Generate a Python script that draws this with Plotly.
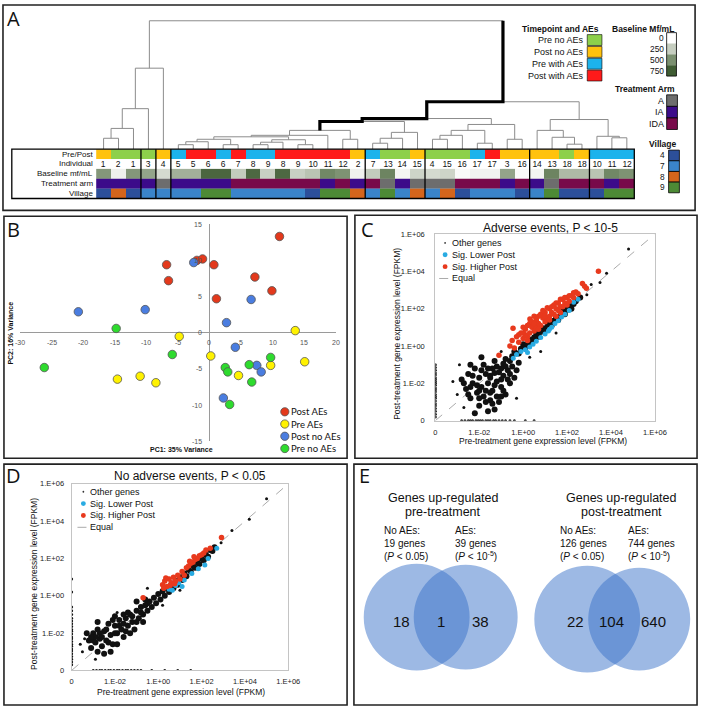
import plotly.graph_objects as go

W, H = 711, 712
def px(x): return x / W
def py(y): return 1 - y / H

SANS = "Liberation Sans, Arial, sans-serif"

# ======================= DATA =======================
# ---- Panel A: samples in dendrogram order ----
col_individual = [1, 2, 1, 3, 4, 5, 5, 6, 6, 7, 8, 9, 8, 9, 10, 11, 12, 2,
                  7, 13, 14, 15, 4, 15, 16, 17, 17, 3, 16, 14, 13, 18, 18, 10, 11, 12]
col_timepoint = ["PoN", "PN", "PN", "PN", "PoN", "PA", "PoA", "PoA", "PA", "PoA", "PA", "PA",
                 "PoA", "PoA", "PoA", "PoA", "PoA", "PoN", "PA", "PN", "PN", "PoN", "PN", "PN",
                 "PN", "PA", "PoA", "PoN", "PoN", "PoN", "PoN", "PN", "PoN", "PA", "PA", "PA"]
timepoint_codes = ["PN", "PoN", "PA", "PoA"]
timepoint_labels = ["Pre no AEs", "Post no AEs", "Pre with AEs", "Post with AEs"]
timepoint_colors = ["#8dd04b", "#ffc20e", "#1cb3ec", "#ff1a1a"]

# per individual 1..18
baseline_mf = [470, 70, 420, 190, 370, 700, 260, 690, 240, 290, 540, 490, 560, 50, 220, 25, 60, 330]
treatment_arm = ["IA", "IA", "IA", "A", "IA", "IA", "IDA", "IDA", "IDA", "IDA", "IA", "IDA",
                 "A", "IA", "A", "IDA", "IDA", "IDA"]
village = ["4", "8", "7", "7", "7", "9", "7", "7", "7", "4", "9", "9", "9", "7", "8", "4", "7", "4"]

baseline_levels = [0, 250, 500, 750]
baseline_colors = ["#ffffff", "#c6cec0", "#7b9070", "#3f5c33"]
arm_levels = ["A", "IA", "IDA"]
arm_colors = ["#6d6d6d", "#3c0b8a", "#780a4a"]
village_levels = ["4", "7", "8", "9"]
village_colors = ["#2c4f9a", "#3a84c9", "#d4651c", "#4d8a35"]

row_labels = ["Pre/Post", "Individual", "Baseline mf/mL", "Treatment arm", "Village"]
group_breaks = [3, 4, 5, 18, 22, 29, 33]

# hierarchical clustering merges: (node, left, right, linkage height)
dendro_merges = [
    ("m0", 0, 1, 11), ("m1", "m0", 2, 21), ("m2", "m1", 3, 41), ("m3", "m2", 4, 82),
    ("m4", 5, 6, 4.5), ("m5", "m4", 7, 7.5), ("m6", 8, 9, 4.5), ("m7", "m5", "m6", 10),
    ("m8", 10, 11, 4.5), ("m9", "m8", 12, 7), ("m10", 13, 14, 4.5), ("m11", "m9", "m10", 9.5),
    ("m12", "m7", "m11", 12.5), ("m13", "m12", 15, 14), ("m14", 16, 17, 10), ("m15", "m13", "m14", 19),
    ("m16", 18, 19, 6), ("m17", "m16", 20, 11), ("m18", "m17", 21, 17), ("m19", "m15", "m18", 28),
    ("m20", 22, 23, 10), ("m21", "m20", 24, 14), ("m22", 25, 26, 6), ("m23", "m21", "m22", 19),
    ("m24", 27, 28, 10), ("m25", "m23", "m24", 25), ("m26", "m19", "m25", 31),
    ("m27", 31, 32, 5), ("m28", 30, "m27", 12), ("m29", 29, "m28", 19),
    ("m30", 34, 35, 11.5), ("m31", 33, "m30", 13), ("m32", "m29", "m31", 30),
    ("m33", "m26", "m32", 48), ("m34", "m3", "m33", 130),
]
highlight_node = "m15"

# ---- Panel B: PCA ----
pca_groups = ["Post AEs", "Pre AEs", "Post no AEs", "Pre no AEs"]
pca_colors = ["#e3391c", "#fff200", "#4a7de0", "#2edb2e"]
pc1_post_aes = [11.1, -6.8, -6.5, -2.0, -1.1, 0.7, 7.2, 9.9, 1.1]
pc2_post_aes = [13.3, 9.4, 7.2, 10.0, 10.2, 9.4, 7.7, 5.8, 4.7]
pc1_pre_aes = [-4.8, 13.6, 0.2, 15.1, 9.7, 4.6, -14.6, -11.0, -8.5]
pc2_pre_aes = [-0.5, 0.3, -3.2, -4.0, -4.5, -5.9, -6.4, -6.0, -6.9]
pc1_post_no = [-20.8, -10.2, -2.5, 6.6, 2.7, 4.1, 7.5, 8.2, 2.2]
pc2_post_no = [2.9, 3.2, 9.7, 4.6, 1.4, -2.0, -4.5, -5.4, -9.0]
pc1_pre_no = [-26.2, -14.8, -5.9, 2.5, 2.9, 6.3, 9.7, 6.7, 3.2]
pc2_pre_no = [-4.8, 0.6, -3.0, -4.8, -5.4, -4.4, -3.4, -6.8, -9.9]
pca_xticks = [-30, -25, -20, -15, -10, -5, 0, 5, 10, 15, 20]
pca_yticks = [15, 10, 5, 0, -5, -10, -15]

# ---- Panels C, D: log10 FPKM (pre, post); -4 marks a zero value ----
fpkm_tickvals = [-4, -2, 0, 2, 4, 6]
fpkm_ticktext = ["0", "1.E-02", "1.E+00", "1.E+02", "1.E+04", "1.E+06"]
equal_line = [-4, 6]

c_other_core = [(-1.5,-1.6),(-1.2,-1.1),(-1.0,-1.2),(-0.8,-0.7),(-0.6,-0.8),(-0.4,-0.3),(-0.2,-0.4),
    (0.0,0.1),(0.1,-0.1),(0.3,0.35),(0.4,0.2),(0.6,0.65),(0.7,0.5),(0.9,0.95),(1.0,0.8),(1.2,1.25),
    (1.3,1.1),(1.5,1.55),(1.6,1.4),(1.8,1.85),(1.9,1.7),(2.1,2.15),(2.2,2.0),(2.4,2.4),(2.6,2.6),
    (-1.3,-1.45),(-0.9,-0.95),(-0.5,-0.55),(-0.1,-0.15),(0.2,0.15),(0.5,0.45),(0.8,0.75),(1.1,1.05),
    (1.4,1.35),(1.7,1.65),(2.0,1.95),(2.3,2.25),
    (-2.8,-1.8),(-2.6,-2.3),(-2.5,-1.5),(-2.4,-2.8),(-2.3,-2.0),(-2.2,-1.2),(-2.1,-2.5),(-2.0,-3.2),
    (-2.0,-1.7),(-1.9,-2.2),(-1.8,-1.0),(-1.8,-2.7),(-1.7,-1.5),(-1.6,-3.5),(-1.6,-2.0),(-1.5,-2.9),
    (-1.4,-1.2),(-1.4,-2.4),(-1.3,-0.8),(-1.2,-1.9),(-1.1,-3.0),(-1.0,-2.2),(-0.9,-1.6),(-0.8,-2.6),
    (-0.7,-1.3),(-0.6,-2.0),(-0.5,-1.1),(-2.2,-3.6),(-1.3,-3.4),(-0.4,-1.7),(-0.2,-0.9),(-2.4,-1.0),
    (-1.9,-0.6),(-2.7,-2.0),(-2.5,-2.6),(-2.3,-1.6),(-2.1,-2.1),(-2.0,-2.8),(-1.9,-1.3),(-1.7,-2.4),
    (-1.7,-3.0),(-1.5,-1.7),(-1.5,-2.5),(-1.3,-2.1),(-1.2,-2.7),(-1.1,-1.4),(-1.0,-1.8),(-0.9,-2.4),
    (-0.8,-1.1),(-0.7,-1.8),(-0.6,-1.5),(-0.3,-1.3),(-2.0,-2.4),(-1.6,-1.2),(-2.4,-2.2),(-1.4,-3.1),
    (-1.0,-2.7)]
c_other_sparse = [(3.1,3.3),(3.5,3.4),(4.8,5.2),(2.9,2.75),(0.8,-0.3),(-3.0,-2.6),(-2.9,-1.0),
    (-0.3,-2.8),(3.8,3.9),(1.5,0.7),(-2.7,-3.3),(-1.0,-0.3),(0.3,-0.6),(-3.2,-1.9)]
c_zero_pre_post = [-3.8,-3.65,-3.5,-3.35,-3.2,-3.1,-2.95,-2.8,-2.7,-2.6,-2.45,-2.35,-2.25,-2.1,-2.0,
    -1.9,-1.8,-1.7,-1.55,-1.45,-1.3,-1.15,-1.0]
c_zero_post_pre = [-2.8,-2.65,-2.5,-2.4,-2.3,-2.15,-2.05,-1.95,-1.85,-1.7,-1.6,-1.5,-1.35,-1.25,-1.1,
    -0.95,-0.8,-0.6,-0.4,0.1,0.5]
c_higher = [(-0.6,0.0),(-0.5,0.3),(-0.4,-0.1),(-0.3,0.5),(-0.2,0.2),(-0.1,0.7),(0.0,0.4),(0.1,0.9),
    (0.2,0.5),(0.3,1.2),(0.3,0.7),(0.4,1.0),(0.5,0.8),(0.6,1.4),(0.6,1.0),(0.7,1.2),(0.8,1.7),(0.8,1.1),
    (0.9,1.5),(1.0,1.3),(1.0,1.8),(1.1,1.5),(1.2,2.0),(1.2,1.6),(1.3,1.8),(1.4,2.2),(1.4,1.7),(1.5,2.0),
    (1.6,2.3),(1.6,1.9),(1.7,2.1),(1.8,2.5),(1.8,2.1),(1.9,2.3),(2.0,2.6),(2.0,2.2),(2.1,2.4),(2.2,2.7),
    (2.3,2.6),(2.4,2.9),(2.5,2.8),(-0.46,0.95),(-1.1,-0.5),(0.31,1.45),(3.43,4.0),(2.7,3.35),(2.8,3.2),
    (2.88,3.1),(0.5,1.6),(0.0,1.0),(1.1,2.05),(-0.2,0.6),(0.1,0.6),(0.2,1.1),(0.4,1.3),(0.5,1.2),
    (0.7,1.6),(0.9,1.9),(1.0,1.6),(1.3,2.1),(1.5,2.3),(1.7,2.5),(1.9,2.6),(2.1,2.7),(2.3,2.85),
    (0.0,0.7),(0.7,0.9),(1.2,1.4),(1.5,1.6),(1.7,1.8),(0.2,0.3)]
c_lower = [(-0.45,-0.65),(-0.3,-0.45),(-0.1,-0.3),(0.1,-0.2),(0.3,-0.05),(0.45,0.1),(0.6,0.25),
    (0.8,0.45),(1.0,0.65),(1.15,0.8),(1.3,1.0),(1.45,1.2),(1.6,1.35),(1.75,1.55),(1.9,1.7),(2.1,1.9),
    (2.3,2.35),(2.5,2.5),(0.2,-0.35),(1.2,0.9)]

d_other_core = [(-3.2,-2.4),(-3.1,-2.8),(-3.0,-2.0),(-2.9,-2.5),(-2.8,-3.0),(-2.8,-1.8),(-2.7,-2.3),
    (-2.6,-2.7),(-2.5,-1.9),(-2.4,-2.4),(-2.3,-1.5),(-2.2,-2.1),(-2.1,-2.6),(-2.0,-1.6),(-1.9,-2.0),
    (-1.8,-1.3),(-1.7,-1.8),(-1.6,-2.2),(-1.5,-1.2),(-1.4,-1.6),(-1.3,-1.0),(-1.2,-1.4),(-1.1,-1.8),
    (-1.0,-0.8),(-0.9,-1.2),(-0.8,-0.6),(-0.7,-1.0),(-0.6,-0.5),(-0.5,-0.8),(-0.4,-0.3),(-0.3,-0.6),
    (-0.2,-0.1),(-0.1,-0.4),(0.0,0.1),(0.1,-0.2),(0.2,0.25),(0.3,0.0),(0.4,0.4),(0.5,0.2),(0.6,0.6),
    (0.7,0.4),(0.8,0.8),(0.9,0.6),(1.0,1.0),(1.1,0.85),(1.2,1.2),(1.3,1.05),(1.4,1.4),(1.5,1.3),
    (1.6,1.6),(1.7,1.5),(1.8,1.8),(1.9,1.7),(2.0,2.0),(2.1,1.9),(2.2,2.2),(2.3,2.1),(2.4,2.45),
    (2.5,2.4),(2.6,2.6),(-2.5,-3.1),(-1.9,-2.6),(-1.3,-2.0),(-3.3,-2.0),(-2.0,-1.1),(-1.0,-0.3),
    (-0.7,-1.4),(-1.6,-1.0),(-2.8,-1.4),(-2.2,-3.0),(-3.0,-2.4),(-2.7,-2.0),(-2.6,-2.2),(-2.4,-1.8),
    (-2.3,-2.5),(-2.0,-2.0),(-1.8,-1.6),(-1.6,-1.5),(-1.5,-1.9),(-1.2,-1.1),(-1.0,-1.4),(-0.8,-0.9),
    (-0.5,-0.4),(-2.9,-2.2),(-3.1,-2.2),(-2.1,-1.3),(-1.4,-0.9),(-0.6,-0.2)]
d_other_sparse = [(2.9,2.85),(3.4,3.5),(4.2,4.1),(5.0,5.2),(-3.5,-3.0),(-3.4,-2.3),(-2.9,-3.4),
    (1.0,0.3),(-0.5,0.4),(-3.6,-2.6),(0.2,-0.5),(-1.9,-0.9),(-4,0.2),(-4,0.9)]
d_zero_pre_post = [-3.7,-3.55,-3.4,-3.25,-3.1,-2.95,-2.85,-2.7,-2.6,-2.45,-2.3,-2.2,-2.05,-1.9,-1.8,
    -1.65,-1.5,-1.35,-1.2,-1.0,-0.8,-0.6]
d_zero_post_pre = [-3.0,-2.85,-2.7,-2.6,-2.45,-2.3,-2.2,-2.05,-1.9,-1.8,-1.65,-1.5,-1.4,-1.25,-1.1,
    -0.95,-0.8,-0.3,0.3,0.9,1.5]
d_higher = [(-0.7,-0.1),(0.2,0.6),(0.3,0.8),(0.4,0.5),(0.5,0.9),(0.6,0.7),(0.7,1.0),(0.8,0.8),
    (0.9,1.1),(1.0,0.9),(1.1,1.3),(1.2,1.1),(0.35,0.95),(0.55,0.55),(0.75,0.65),(0.25,0.4),(1.3,1.5),
    (1.4,1.6),(1.5,1.75),(1.6,1.8),(1.7,1.95),(1.8,2.0),(1.9,2.15),(2.0,2.2),(2.1,2.3),(2.2,2.45),
    (2.4,2.55),(2.92,3.13),(1.45,1.85),(1.65,2.1)]
d_lower = [(0.5,0.35),(0.65,0.3),(0.8,0.55),(1.1,0.5),(1.2,0.85),(1.55,1.2),(1.85,1.45),(2.15,1.65),
    (2.3,2.0),(2.7,2.55),(0.95,0.7)]

# ---- Panel E: Venn counts ----
venn_pre_counts = [18, 1, 38]
venn_post_counts = [22, 104, 640]
venn_pre_totals = [19, 39]
venn_post_totals = [126, 744]

# ======================= FIGURE =======================
fig = go.Figure()
shapes, ann = [], []

def text(x, y, s, size=9, anchor="center", color="#111", bold=False, angle=0, family=SANS):
    if bold:
        s = "<b>" + s + "</b>"
    ann.append(dict(x=px(x), y=py(y), xref="paper", yref="paper", text=s, showarrow=False,
                    xanchor=anchor, yanchor="middle", textangle=angle, borderpad=0,
                    font=dict(size=size, color=color, family=family)))

def rect(x0, y0, x1, y1, fill=None, line="#000", lw=1.0):
    shapes.append(dict(type="rect", xref="paper", yref="paper", x0=px(x0), x1=px(x1),
                       y0=py(y1), y1=py(y0), line=dict(color=line, width=lw),
                       fillcolor=fill if fill else "rgba(0,0,0,0)", layer="above"))

def vline(x, y0, y1, color="#000", lw=1.0):
    shapes.append(dict(type="line", xref="paper", yref="paper", x0=px(x), x1=px(x),
                       y0=py(y0), y1=py(y1), line=dict(color=color, width=lw), layer="above"))

def circle(cx, cy, r, fill, line="rgba(0,0,0,0)", lw=0):
    shapes.append(dict(type="circle", xref="paper", yref="paper", x0=px(cx - r), x1=px(cx + r),
                       y0=py(cy + r), y1=py(cy - r), fillcolor=fill,
                       line=dict(color=line, width=lw), layer="above"))

def discrete_scale(colors):
    n = len(colors)
    cs = []
    for i, c in enumerate(colors):
        cs += [[i / n, c], [(i + 1) / n, c]]
    return cs

# ---------------- Panel A ----------------
NCOL = len(col_individual)
HX0, HX1 = 96, 645
HY0, HY1 = 147, 197
cw = (HX1 - HX0) / NCOL

pos, hgt, parent = {}, {}, {}
for i in range(NCOL):
    pos[i], hgt[i] = i, 0
dx, dy = [], []
for name, a, b, h in dendro_merges:
    dx += [pos[a], pos[a], pos[b], pos[b], None]
    dy += [hgt[a], h, h, hgt[b], None]
    pos[name], hgt[name] = (pos[a] + pos[b]) / 2, h
    parent[a], parent[b] = name, name
tx, ty = [pos[highlight_node]], [hgt[highlight_node]]
node = highlight_node
while node in parent:
    p = parent[node]
    tx.append(pos[node]); ty.append(hgt[p])
    if p in parent:
        tx.append(pos[p]); ty.append(hgt[p])
    node = p

fig.add_trace(go.Scatter(x=dx, y=dy, mode="lines", line=dict(color="#8c8c8c", width=1),
                         xaxis="x", yaxis="y", hoverinfo="skip", showlegend=False))
fig.add_trace(go.Scatter(x=tx, y=ty, mode="lines", line=dict(color="#000", width=3.2),
                         xaxis="x", yaxis="y", hoverinfo="skip", showlegend=False))

cols = list(range(NCOL))
tp_z = [timepoint_codes.index(t) for t in col_timepoint]
base_z = [baseline_mf[i - 1] for i in col_individual]
arm_z = [arm_levels.index(treatment_arm[i - 1]) for i in col_individual]
vil_z = [village_levels.index(village[i - 1]) for i in col_individual]

def hm(row, z, cs, zmin, zmax, txt=None):
    kw = {}
    if txt is not None:
        kw = dict(text=[txt], texttemplate="%{text}",
                  textfont=dict(size=8.5, family=SANS, color="#111"))
    fig.add_trace(go.Heatmap(x=cols, y=[row], z=[z], colorscale=cs, zmin=zmin, zmax=zmax,
                             showscale=False, xaxis="x2", yaxis="y2", hoverinfo="skip", **kw))

hm(0, tp_z, discrete_scale(timepoint_colors), -0.5, len(timepoint_colors) - 0.5)
hm(1, [0] * NCOL, [[0, "#ffffff"], [1, "#ffffff"]], 0, 1, txt=col_individual)
hm(2, base_z, [[k / 3, c] for k, c in enumerate(baseline_colors)], 0, 750)
hm(3, arm_z, discrete_scale(arm_colors), -0.5, len(arm_colors) - 0.5)
hm(4, vil_z, discrete_scale(village_colors), -0.5, len(village_colors) - 0.5)

rh = (HY1 - HY0) / len(row_labels)
for k, lab in enumerate(row_labels):
    text(94, HY0 + rh * (k + 0.5), lab, size=8, anchor="right")
rect(10, HY0, HX1, HY1, lw=1.3)
for b in group_breaks:
    vline(HX0 + b * cw, HY0, HY1, lw=1.3)

# legends of panel A
text(610, 25, "Timepoint and AEs", size=8.5, anchor="right", bold=True)
for k, (lab, c) in enumerate(zip(timepoint_labels, timepoint_colors)):
    y0 = 31 + 12 * k
    rect(597, y0, 612, y0 + 11, fill=c, lw=0.6)
    text(595, y0 + 5.5, lab, size=9, anchor="right")
text(687, 25, "Baseline Mf/mL", size=8.5, anchor="right", bold=True)
for k, (lv, c) in enumerate(zip(baseline_levels, baseline_colors)):
    y0 = 29 + 11 * k
    rect(678, y0, 688, y0 + 11, fill=c, lw=0)
    text(676, y0 + 5.5, str(lv), size=8.4, anchor="right")
rect(678, 29, 688, 73, lw=0.8)
text(688, 86, "Treatment Arm", size=8.5, anchor="right", bold=True)
for k, (lv, c) in enumerate(zip(arm_levels, arm_colors)):
    y0 = 92 + 11.7 * k
    rect(678, y0, 689, y0 + 11.7, fill=c, lw=0.8)
    text(676, y0 + 6, lv, size=9, anchor="right")
text(690, 142, "Village", size=8.5, anchor="right", bold=True)
for k, (lv, c) in enumerate(zip(village_levels, village_colors)):
    y0 = 148 + 10.8 * k
    rect(680, y0, 691, y0 + 10.8, fill=c, lw=0.8)
    text(677, y0 + 5.4, lv, size=8.3, anchor="right")

# ---------------- Panel B ----------------
pca_x = [pc1_post_aes, pc1_pre_aes, pc1_post_no, pc1_pre_no]
pca_y = [pc2_post_aes, pc2_pre_aes, pc2_post_no, pc2_pre_no]
for g, c, xs, ys in zip(pca_groups, pca_colors, pca_x, pca_y):
    fig.add_trace(go.Scatter(x=xs, y=ys, mode="markers", name=g, xaxis="x3", yaxis="y3",
                             marker=dict(size=8.5, color=c, line=dict(color="#555", width=0.8)),
                             hoverinfo="skip", showlegend=False))
for v in pca_xticks:
    ann.append(dict(x=v, y=0, xref="x3", yref="y3", text=str(v), showarrow=False, yshift=-10,
                    font=dict(size=7, color="#555", family=SANS)))
for v in pca_yticks:
    ann.append(dict(x=0, y=v, xref="x3", yref="y3", text=str(v), showarrow=False, xanchor="right",
                    xshift=-5, font=dict(size=7, color="#555", family=SANS)))
text(183, 451, "PC1: 35% Variance", size=7, bold=True)
text(9, 333, "PC2: 16% Variance", size=7, bold=True, angle=-90)
for k, (g, c) in enumerate(zip(pca_groups, pca_colors)):
    yy = 413 + 12.4 * k
    circle(288.5, yy, 4.2, c, line="#555", lw=0.8)
    text(294, yy, g, size=9.5, anchor="left", family="Lato, Open Sans, sans-serif")

# ---------------- Panels C and D ----------------
def fpkm_panel(xa, ya, core, sparse, zero_pre, zero_post, higher, lower):
    cx, cy = zip(*core)
    sx, sy = zip(*sparse)
    fig.add_trace(go.Scatter(x=equal_line, y=equal_line, mode="lines", xaxis=xa, yaxis=ya,
                             line=dict(color="#aaaaaa", width=1, dash="dash"), hoverinfo="skip",
                             showlegend=False))
    fig.add_trace(go.Scatter(x=cx, y=cy, mode="markers", xaxis=xa, yaxis=ya, hoverinfo="skip",
                             marker=dict(size=6, color="#111"), showlegend=False))
    fig.add_trace(go.Scatter(x=list(sx) + [-4] * len(zero_pre) + list(zero_post),
                             y=list(sy) + list(zero_pre) + [-4] * len(zero_post),
                             mode="markers", xaxis=xa, yaxis=ya, hoverinfo="skip",
                             marker=dict(size=3, color="#111"), showlegend=False))
    lx, ly = zip(*lower)
    fig.add_trace(go.Scatter(x=lx, y=ly, mode="markers", xaxis=xa, yaxis=ya, hoverinfo="skip",
                             marker=dict(size=5, color="#29abe2"), showlegend=False))
    hx, hy = zip(*higher)
    fig.add_trace(go.Scatter(x=hx, y=hy, mode="markers", xaxis=xa, yaxis=ya, hoverinfo="skip",
                             marker=dict(size=5.5, color="#e8391d"), showlegend=False))

fpkm_panel("x4", "y4", c_other_core, c_other_sparse, c_zero_pre_post, c_zero_post_pre, c_higher, c_lower)
fpkm_panel("x5", "y5", d_other_core, d_other_sparse, d_zero_pre_post, d_zero_post_pre, d_higher, d_lower)

legend_names = ["Other genes", "Sig. Lower Post", "Sig. Higher Post", "Equal"]
legend_cols = ["#333", "#29abe2", "#e8391d", "#aaaaaa"]
def fpkm_legend(mx, tx0, y0):
    for k, (n, c) in enumerate(zip(legend_names, legend_cols)):
        yy = y0 + 12 * k
        if k == 0:
            circle(mx, yy, 0.9, c)
        elif k < 3:
            circle(mx, yy, 2.5, c)
        else:
            shapes.append(dict(type="line", xref="paper", yref="paper", x0=px(mx - 6), x1=px(mx + 4),
                               y0=py(yy), y1=py(yy), line=dict(color=c, width=1, dash="dash")))
        text(tx0, yy, n, size=9, anchor="left")

fpkm_legend(452, 458, 242)
fpkm_legend(83, 89, 494)
text(560, 227, "Adverse events, P &lt; 10-5", size=12)
text(192, 478, "No adverse events, P &lt; 0.05", size=12)
text(552, 443, "Pre-treatment gene expression level (FPKM)", size=8.5)
text(183, 697, "Pre-treatment gene expression level (FPKM)", size=8.5)
text(403, 334, "Post-treatment gene expression level (FPKM)", size=8.5, angle=-90)
text(32, 587, "Post-treatment gene expression level (FPKM)", size=8.5, angle=-90)

# ---------------- Panel E ----------------
VENN_FILL = "rgba(55,112,200,0.49)"
circle(423, 621, 54, VENN_FILL)
circle(473, 621, 53, VENN_FILL)
circle(597, 623, 54, VENN_FILL)
circle(650, 623, 52, VENN_FILL)
for xx, n in zip([408, 448, 488], venn_pre_counts):
    text(xx, 625, str(n), size=15)
for xx, n in zip([585, 622, 665], venn_post_counts):
    text(xx, 625, str(n), size=15)
text(450, 500, "Genes up-regulated", size=12.5)
text(450, 515, "pre-treatment", size=12.5)
text(632, 500, "Genes up-regulated", size=12.5)
text(632, 515, "post-treatment", size=12.5)
p05 = "(<i>P</i> &lt; 0.05)"
p105 = "(<i>P</i> &lt; 10<sup>-5</sup>)"
for x0, t, p, lab in [(389, venn_pre_totals[0], p05, "No AEs:"), (461, venn_pre_totals[1], p105, "AEs:"),
                      (568, venn_post_totals[0], p05, "No AEs:"), (638, venn_post_totals[1], p105, "AEs:")]:
    ann.append(dict(x=px(x0), y=py(527), xref="paper", yref="paper", showarrow=False,
                    text=f"{lab}<br>{t} genes<br>{p}", align="left", xanchor="left", yanchor="top",
                    borderpad=0, font=dict(size=10, family=SANS, color="#111")))

# ---------------- panel frames and letters ----------------
for (x0, y0, x1, y1) in [(1, 1, 707, 209), (2, 215, 352, 460), (360, 214, 709, 460),
                         (2, 466, 352, 710), (359, 466, 709, 710)]:
    rect(x0, y0, x1, y1, line="#222", lw=1.6)
for lab, x, y in [("A", 12, 15), ("B", 12, 228), ("C", 373, 228), ("D", 12, 478), ("E", 370, 478)]:
    text(x, y, lab, size=20, anchor="center", family="Open Sans, Liberation Sans, sans-serif")

# ---------------- layout ----------------
hidden = dict(visible=False, showgrid=False, zeroline=False)
def fpkm_axis(dom, standoff):
    return dict(domain=dom, range=[-4, 6], tickvals=fpkm_tickvals, ticktext=fpkm_ticktext,
                showgrid=False, zeroline=False, showline=True, mirror=True, linecolor="#c4c4c4",
                linewidth=1, ticks="", ticklabelstandoff=standoff,
                tickfont=dict(size=7.5, family=SANS, color="#222"))

fig.update_layout(
    width=W, height=H, margin=dict(l=0, r=0, t=0, b=0),
    paper_bgcolor="white", plot_bgcolor="rgba(0,0,0,0)", showlegend=False,
    xaxis=dict(domain=[px(HX0), px(HX1)], range=[-0.5, NCOL - 0.5], anchor="y", **hidden),
    yaxis=dict(domain=[py(HY0), py(15)], range=[0, 132], anchor="x", **hidden),
    xaxis2=dict(domain=[px(HX0), px(HX1)], range=[-0.5, NCOL - 0.5], anchor="y2", **hidden),
    yaxis2=dict(domain=[py(HY1), py(HY0)], range=[len(row_labels) - 0.5, -0.5], anchor="x2", **hidden),
    xaxis3=dict(domain=[px(18.7), px(340.3)], range=[-30, 20], anchor="y3", showgrid=False,
                zeroline=True, zerolinecolor="#9a9a9a", zerolinewidth=1, showticklabels=False,
                showline=False, ticks=""),
    yaxis3=dict(domain=[py(443), py(223)], range=[-15, 15], anchor="x3", showgrid=False,
                zeroline=True, zerolinecolor="#9a9a9a", zerolinewidth=1, showticklabels=False,
                showline=False, ticks=""),
    xaxis4=dict(anchor="y4", **fpkm_axis([px(442), px(666)], 4)),
    yaxis4=dict(anchor="x4", **fpkm_axis([py(422), py(233)], 8)),
    xaxis5=dict(anchor="y5", **fpkm_axis([px(71), px(292)], 4)),
    yaxis5=dict(anchor="x5", **fpkm_axis([py(675), py(486)], 5)),
    shapes=shapes, annotations=ann,
)

fig.write_html("out.html", config={"displayModeBar": False},
               post_script="document.body.style.margin='0';document.body.style.overflow='hidden';")
